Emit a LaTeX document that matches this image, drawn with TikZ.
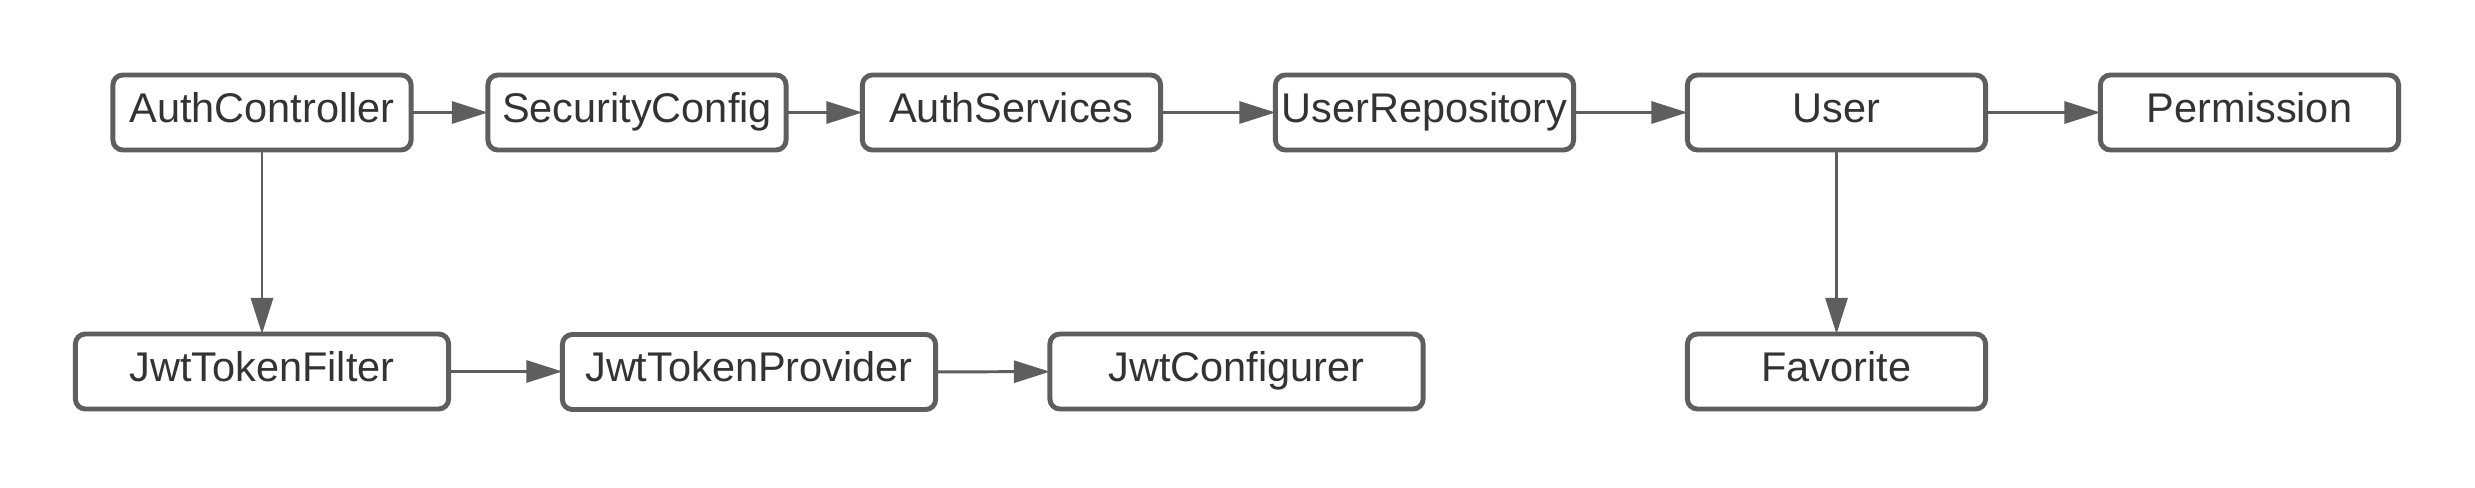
\documentclass[tikz,border=0pt]{standalone}
\usepackage{fontspec}
\setmainfont{Liberation Sans}
\usetikzlibrary{arrows.meta}
\definecolor{edge}{HTML}{5E5E5E}
\definecolor{txt}{HTML}{333333}
\tikzset{
  box/.style={draw=edge, line width=1.4pt, rounded corners=0.1cm, fill=white,
    minimum width=2.98cm, minimum height=0.75cm, inner sep=0pt, outer sep=0pt,
    text=txt, font=\fontsize{11.8pt}{14pt}\selectfont,
    text height=0.35cm, text depth=0.16cm},
  widebox/.style={box, minimum width=3.73cm},
  link/.style={draw=edge, line width=0.85pt, -{Triangle[length=0.36cm, width=0.22cm]}}
}
\begin{document}
\begin{tikzpicture}[x=0.01cm, y=-0.01cm]
\useasboundingbox (0,0) rectangle (2475,488);
\node[box] (ac) at (262,112.5) {AuthController};
\node[box] (sc) at (637,112.5) {SecurityConfig};
\node[box] (as) at (1011.5,112.5) {AuthServices};
\node[box] (ur) at (1424.5,112.5) {UserRepository};
\node[box] (us) at (1836.5,112.5) {User};
\node[box] (pe) at (2249.5,112.5) {Permission};
\node[widebox] (jf) at (262,371.5) {JwtTokenFilter};
\node[widebox] (jp) at (749,372) {JwtTokenProvider};
\node[widebox] (jc) at (1236.5,371.5) {JwtConfigurer};
\node[box] (fa) at (1836.5,371.5) {Favorite};
\draw[link] (ac) -- (sc);
\draw[link] (sc) -- (as);
\draw[link] (as) -- (ur);
\draw[link] (ur) -- (us);
\draw[link] (us) -- (pe);
\draw[link] (ac) -- (jf);
\draw[link] (jf.east) -- (jp.west |- jf.east);
\draw[link] (jp) -- (jc);
\draw[link] (us) -- (fa);
\end{tikzpicture}
\end{document}
